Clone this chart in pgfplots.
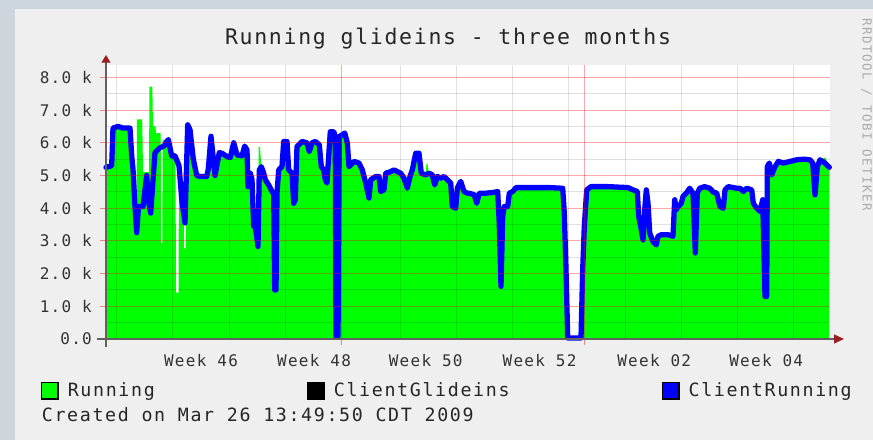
\documentclass[border=0pt]{standalone}
\usepackage{fontspec}
\setmainfont{DejaVu Sans Mono}
\newfontfamily\titlefont{DejaVu Sans Mono}[LetterSpace=8]
\newfontfamily\legfont{DejaVu Sans Mono}[LetterSpace=9]
\newfontfamily\tickfont{DejaVu Sans Mono}[LetterSpace=8]
\newfontfamily\credfont{DejaVu Sans Mono}[LetterSpace=12]
\usepackage{pgfplots}
\pgfplotsset{compat=1.18}
\usepackage{pgfplotstable}
\usetikzlibrary{arrows.meta}
\definecolor{outerbg}{HTML}{CDD6DC}
\definecolor{panelbg}{HTML}{EFEFEF}
\definecolor{arrowred}{HTML}{9A1F1F}
\definecolor{rrdgreen}{HTML}{00FF00}
\definecolor{rrdblue}{HTML}{0000FF}

% x = time position along the three-month window, y = glideins in thousands
\pgfplotstableread{
t v
106 5.25
111.7 5.3
113 6.45
118 6.5
123 6.45
130 6.45
131.7 5.6
133 5.2
135 4.05
136.7 3.25
138.5 4.05
143 4.05
146.7 5.0
148.5 4.2
150.7 3.85
155 5.7
160 5.85
164 5.9
168.3 6.1
171.7 5.6
175 5.6
179 5.3
182 4.2
185 3.55
187.7 6.55
190 6.4
193.3 5.5
196.7 5.0
200 4.97
206.7 4.97
208.3 5.2
211 6.2
215 5.0
219.3 5.7
222 5.68
227 5.58
230.3 5.55
233.7 6.0
237 5.63
242 5.6
244.7 5.9
247 5.78
248 4.66
250.3 5.07
252 4.87
253.7 3.44
255.3 3.44
258 2.83
259.3 5.17
261.3 5.27
263.7 5.07
265.3 4.87
268.7 4.71
272 4.51
273.7 4.46
274.7 1.5
276 1.5
277 4.46
278.7 5.17
282 5.27
283.7 6.04
287 6.04
288.7 5.17
292 5.07
293.7 4.15
295.3 4.26
297 5.88
302 6.04
307 6.0
309.3 5.73
312 6.0
315.3 6.04
319.3 5.94
321.3 5.27
323.7 5.17
325.3 4.87
327 4.77
328 5.27
330.3 6.34
333.7 6.34
335.3 6.19
336 0.08
338 0.08
339.3 6.19
342 6.24
344.7 6.3
347.3 6.0
349 5.27
354 5.43
359 5.38
362.3 5.17
365.7 4.77
369 4.31
370.7 4.87
375.7 4.97
379 4.97
380.7 4.51
384 4.56
385.7 5.07
390.7 5.12
394 5.17
397.3 5.12
400.7 5.07
404 4.92
407.3 4.61
410 4.97
412.3 5.17
415.7 5.68
419 5.68
421.3 5.07
425.7 5.02
429 5.07
432.3 5.02
434.7 4.71
437.3 4.97
440.7 4.92
444 4.97
447.3 4.87
450.7 4.77
452.3 4.05
455.7 4.0
457.3 4.61
460.7 4.82
464 4.51
467.3 4.46
469.3 4.46
474.3 4.41
476.7 4.15
479.3 4.46
486 4.46
492.7 4.48
497.7 4.51
499.3 3.5
501 1.61
502.7 3.75
504.3 4.05
507.7 4.05
509.3 4.46
512.7 4.51
516 4.63
532.7 4.63
549.3 4.63
562.7 4.61
564.3 3.85
566 2.12
567.7 0.03
581 0.03
582.7 2.12
584.3 3.44
586.7 4.56
591 4.66
608 4.66
628 4.63
633 4.56
637.3 4.51
638.7 3.75
641.3 3.34
643 3.03
644.7 3.95
646.3 4.56
648 4.15
649.7 3.24
653 2.98
656.3 2.88
658 3.14
661.3 3.19
668 3.19
673 3.14
674.7 4.26
676.3 3.95
678 4.05
681.3 4.15
683 4.36
686.3 4.46
689.7 4.61
693 4.46
695.3 2.63
697.3 4.46
699.7 4.61
704.7 4.66
709.7 4.61
713 4.5
716.7 4.46
720 4.05
723.3 4.0
725 4.56
728.3 4.66
733.3 4.63
736.7 4.61
740 4.61
743.3 4.51
746.7 4.61
751.7 4.56
753.3 4.15
756.7 4.0
760 3.9
762.7 4.26
765 1.3
766.7 1.3
767.3 5.27
769.3 5.38
771.7 5.02
775 5.27
778.3 5.43
783.3 5.38
790 5.43
796.7 5.48
803.3 5.5
810 5.48
812.7 5.38
815 4.41
817.3 5.27
820 5.48
825 5.38
829.3 5.25
}\clientrunning

\pgfplotstableread{
t v
106 5.25
111.7 5.3
113 6.45
130 6.45
131.7 5.6
133 5.2
135 4.05
136.5 4.05
137 6.72
141.7 6.72
142.3 6.6
143 5.1
149 5.1
149.5 7.72
152.3 7.72
153 6.5
155.5 6.5
156 6.3
160.7 6.3
161 2.93
162.3 2.93
162.7 6.1
168.3 6.1
171.7 5.6
175.5 5.6
176 1.42
178.5 1.42
179 5.3
182 4.2
183.7 3.6
184 2.77
185.5 2.77
186 3.6
187.7 6.55
190 6.4
193.3 5.5
196.7 5.0
200 4.97
206.7 4.97
208.3 5.2
211 6.2
215 5.0
219.3 5.7
222 5.68
227 5.58
230.3 5.55
233.7 6.1
237 5.63
242 5.6
244.7 5.9
247 5.78
248 4.66
250.3 5.07
252 4.87
253.7 3.44
255.3 3.44
258 2.83
258.7 5.87
260 5.87
261.3 5.27
263.7 5.07
265.3 4.87
268.7 4.71
272 4.51
273.7 4.46
274.7 1.5
276 1.5
277 4.46
278.7 5.17
282 5.27
283.7 6.04
287 6.04
288.7 5.17
292 5.07
293.7 4.15
295.3 4.26
297 5.88
302 6.04
307 6.0
309.3 5.73
312 6.0
315.3 6.04
319.3 5.94
321.3 5.27
323.7 5.17
325.3 4.87
327 4.77
328 5.27
330.3 6.34
333.7 6.34
335.3 6.19
336 0.08
338 0.08
339.3 6.19
342 6.24
344.7 6.3
347.3 6.0
349 5.27
354 5.43
359 5.38
362.3 5.17
365.7 4.77
369 4.31
370.7 4.87
375.7 4.97
379 4.97
380.7 4.51
384 4.56
385.7 5.07
390.7 5.12
394 5.17
397.3 5.12
400.7 5.07
404 4.92
407.3 4.61
410 4.97
412.3 5.17
415.7 5.68
419 5.68
421.3 5.07
425.7 5.02
426.5 5.36
427.5 5.36
429 5.07
432.3 5.02
434.7 4.71
437.3 4.97
440.7 4.92
444 4.97
447.3 4.87
450.7 4.77
452.3 4.05
455.7 4.0
457.3 4.61
460.7 4.82
464 4.51
467.3 4.46
469.3 4.46
474.3 4.41
476.7 4.15
479.3 4.46
486 4.46
492.7 4.48
497.7 4.51
499.3 3.5
501 1.61
502.7 3.75
504.3 4.05
507.7 4.05
509.3 4.46
512.7 4.51
516 4.63
532.7 4.63
549.3 4.63
562.7 4.61
564.3 3.85
566 2.12
567.7 0.03
581 0.03
582.7 2.12
584.3 3.44
586.7 4.56
591 4.66
608 4.66
628 4.63
633 4.56
637.3 4.51
638.7 3.75
641.3 3.34
643 3.03
644.7 3.95
646.3 4.56
648 4.15
649.7 3.24
653 2.98
656.3 2.88
658 3.14
661.3 3.19
668 3.19
673 3.14
674.7 4.26
676.3 3.95
678 4.05
681.3 4.15
683 4.36
686.3 4.46
689.7 4.61
693 4.46
695.3 2.63
697.3 4.46
699.7 4.61
704.7 4.66
709.7 4.61
713 4.5
716.7 4.46
720 4.05
723.3 4.0
725 4.56
728.3 4.66
733.3 4.63
736.7 4.61
740 4.61
743.3 4.51
746.7 4.61
751.7 4.56
753.3 4.15
756.7 4.0
760 3.9
762.7 4.26
765 1.3
766.7 1.3
767.3 5.27
769.3 5.38
771.7 5.02
775 5.27
778.3 5.43
783.3 5.38
790 5.43
796.7 5.48
803.3 5.5
810 5.48
812.7 5.38
815 4.41
817.3 5.27
820 5.48
825.5 5.55
827 5.4
829.3 5.25
}\running

\begin{document}
\begin{tikzpicture}
\useasboundingbox (0,0) rectangle (873bp,440bp);
\fill[outerbg] (0,0) rectangle (873bp,440bp);
\fill[panelbg] (15bp,0) rectangle (873bp,431bp);
\node[anchor=base, inner sep=0pt, text=black!85] at (448bp,395.7bp)
  {\titlefont\fontsize{21.5bp}{24bp}\selectfont Running glideins - three months};
\node[anchor=base west, inner sep=0pt, text=black!85] at (41.7bp,18.3bp)
  {\legfont\fontsize{18.3bp}{20bp}\selectfont Created on Mar 26 13:49:50 CDT 2009};
\node[rotate=-90, anchor=base west, inner sep=0pt, text=black!33] at (862.7bp,422bp)
  {\credfont\fontsize{12.5bp}{14bp}\selectfont RRDTOOL / TOBI OETIKER};
\begin{axis}[
  at={(106bp,101bp)}, anchor=south west,
  scale only axis, width=724bp, height=274bp,
  xmin=106, xmax=830, ymin=0, ymax=8.38,
  axis background/.style={fill=white},
  axis on top, clip=false,
  axis lines=left,
  axis line style={draw=black!62, line width=1.3bp},
  every outer x axis line/.append style={-{Triangle[length=10bp,width=9bp,color=arrowred]}, shorten >=-14bp, shorten <=-9.3bp},
  every outer y axis line/.append style={-{Triangle[length=7.7bp,width=9bp,color=arrowred]}, shorten >=-10bp, shorten <=-7.7bp},
  xtick={341.7,584}, xticklabels={{},{}},
  minor xtick={116.7,172.3,229,285,400,456,512,568,625,681,737,793},
  extra x ticks={201,314,425.7,539.5,654.2,766.2},
  extra x tick labels={Week 46,Week 48,Week 50,Week 52,Week 02,Week 04},
  extra x tick style={grid=none, major tick length=0pt,
    xticklabel style={anchor=base, inner sep=0pt, yshift=-28bp}},
  ytick={0,1,...,8},
  yticklabels={0.0,1.0 k,2.0 k,3.0 k,4.0 k,5.0 k,6.0 k,7.0 k,8.0 k},
  minor ytick={0.5,1.5,...,7.5},
  grid=both,
  major grid style={draw=red, draw opacity=0.35, line width=1bp},
  minor grid style={draw=black, draw opacity=0.12, line width=1bp},
  tick align=outside, major tick length=6bp, minor tick length=0pt,
  major tick style={draw=red, draw opacity=0.45, line width=1bp},
  tick label style={font=\tickfont\fontsize{16bp}{18bp}\selectfont, text=black!80},
  yticklabel style={anchor=east, inner sep=0pt, xshift=-8bp},
  legend columns=3,
  legend image code/.code={\draw[#1] (0bp,-8.2bp) rectangle (16.5bp,8.2bp);},
  legend style={at={(axis description cs:-0.0902,-0.188)}, anchor=west,
    draw=none, fill=none, inner sep=0pt, outer sep=0pt,
    font=\legfont\fontsize{18.3bp}{20bp}\selectfont, text=black!85,
    nodes={inner sep=0pt},
    cells={anchor=west},
    /tikz/every odd column/.append style={column sep=9bp},
    /tikz/every even column/.append style={column sep=152bp}},
]
\addplot[fill=rrdgreen, draw=none, forget plot] table[x=t, y=v] {\running} \closedcycle;
\addplot[rrdblue, line width=5.3bp, line join=round, line cap=round, forget plot] table[x=t, y=v] {\clientrunning};
\addlegendimage{fill=rrdgreen, draw=black, line width=1.6bp}
\addlegendentry{Running}
\addlegendimage{fill=black, draw=black, line width=1.6bp}
\addlegendentry{ClientGlideins}
\addlegendimage{fill=rrdblue, draw=black, line width=1.6bp}
\addlegendentry{ClientRunning}
\end{axis}
\end{tikzpicture}
\end{document}
